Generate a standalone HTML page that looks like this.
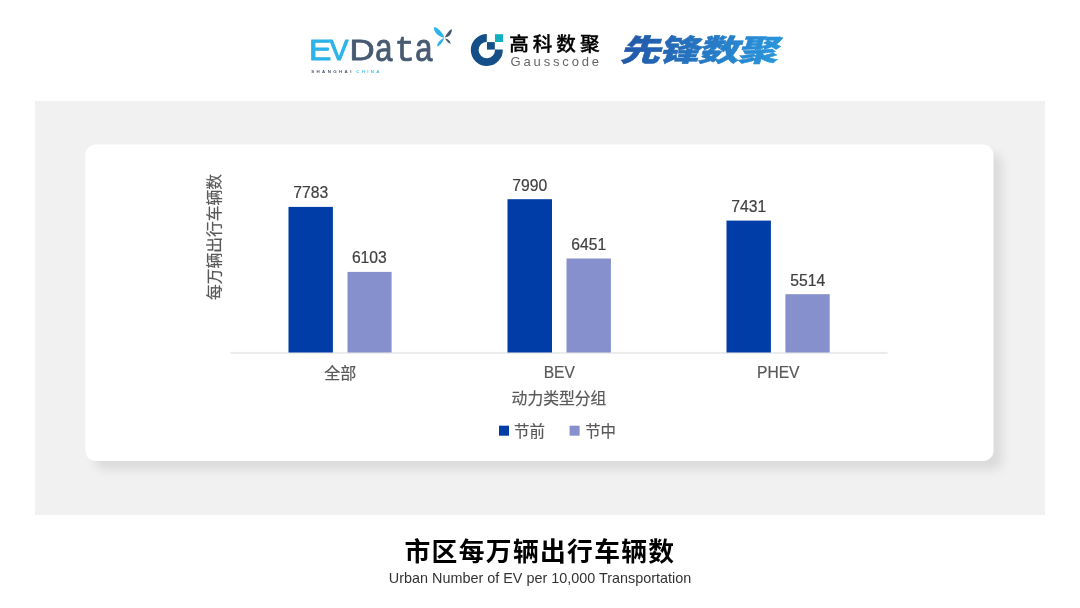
<!DOCTYPE html>
<html lang="zh-CN">
<head>
<meta charset="utf-8">
<title>市区每万辆出行车辆数</title>
<style>
html,body{margin:0;padding:0;}
body{width:1080px;height:608px;position:relative;overflow:hidden;background:#fff;
  font-family:"Liberation Sans","Noto Sans CJK SC",sans-serif;}
.abs{position:absolute;}
.val{position:absolute;font-size:15.7px;line-height:16px;color:#404040;-webkit-text-stroke:0.2px #404040;width:60px;text-align:center;white-space:nowrap;}
.cat{position:absolute;font-size:15.6px;line-height:16px;color:#595959;-webkit-text-stroke:0.2px #595959;width:100px;text-align:center;white-space:nowrap;font-weight:400;}
#xtitle{left:459px;top:389.8px;width:200px;text-align:center;font-size:15.8px;line-height:18px;color:#595959;font-weight:400;-webkit-text-stroke:0.2px #595959;white-space:nowrap;}
#ytitle{left:215.1px;top:237.2px;width:0;height:0;}
#ytitle span{position:absolute;display:block;white-space:nowrap;font-size:15.75px;line-height:18px;color:#595959;font-weight:400;-webkit-text-stroke:0.2px #595959;
  transform:translate(-50%,-50%) rotate(-90deg);transform-origin:50% 50%;left:0;top:0;}
.lg{position:absolute;font-size:15.4px;line-height:18px;color:#595959;font-weight:400;-webkit-text-stroke:0.2px #595959;white-space:nowrap;}
#title{left:0px;top:534px;width:1080px;text-align:center;font-size:25.8px;line-height:36px;font-weight:700;color:#000;letter-spacing:1.3px;white-space:nowrap;
  font-family:"Liberation Sans","Noto Sans CJK SC",sans-serif;}
#sub{left:0;top:569.6px;width:1080px;text-align:center;font-size:14.4px;line-height:16px;color:#333;white-space:nowrap;}
</style>
</head>
<body>
<svg class="abs" style="left:0;top:0" width="1080" height="608" viewBox="0 0 1080 608">
  <defs>
    <filter id="sh" x="-10%" y="-20%" width="120%" height="140%">
      <feDropShadow dx="9" dy="9" stdDeviation="5" flood-color="#000" flood-opacity="0.092"/>
    </filter>
  </defs>
  <rect x="35" y="101" width="1010" height="414" fill="#f1f1f1"/>
  <rect x="85.4" y="144.6" width="907.9" height="316.4" rx="10" ry="10" fill="#fff" filter="url(#sh)"/>
  <!-- axis -->
  <rect x="230.7" y="351.9" width="656.8" height="2" fill="#ebebeb"/>
  <!-- bars -->
  <g fill="#003da6">
    <rect x="288.5" y="206.9" width="44.4" height="145.6"/>
    <rect x="507.5" y="199.2" width="44.5" height="153.3"/>
    <rect x="726.5" y="220.6" width="44.4" height="131.9"/>
  </g>
  <g fill="#8690cc">
    <rect x="347.5" y="271.9" width="44.1" height="80.6"/>
    <rect x="566.5" y="258.5" width="44.4" height="94"/>
    <rect x="785.4" y="294.2" width="44.3" height="58.3"/>
  </g>
  <!-- legend markers -->
  <rect x="499" y="425.7" width="10" height="10" fill="#003da6"/>
  <rect x="569.6" y="425.7" width="10" height="10" fill="#8690cc"/>
</svg>

<!-- value labels -->
<div class="val" style="left:280.75px;top:184.6px">7783</div>
<div class="val" style="left:339.35px;top:249.6px">6103</div>
<div class="val" style="left:499.75px;top:177.6px">7990</div>
<div class="val" style="left:558.75px;top:236.6px">6451</div>
<div class="val" style="left:718.75px;top:198.6px">7431</div>
<div class="val" style="left:777.75px;top:272.6px">5514</div>

<!-- categories -->
<div class="cat" style="left:290.25px;top:365.5px;font-size:16px">全部</div>
<div class="cat" style="left:509.25px;top:365px">BEV</div>
<div class="cat" style="left:728.25px;top:365px">PHEV</div>

<div id="xtitle" class="abs">动力类型分组</div>
<div id="ytitle" class="abs"><span>每万辆出行车辆数</span></div>

<!-- legend -->
<div class="lg" style="left:514px;top:423px">节前</div>
<div class="lg" style="left:585.2px;top:423px">节中</div>

<div id="title" class="abs">市区每万辆出行车辆数</div>
<div id="sub" class="abs">Urban Number of EV per 10,000 Transportation</div>

<!-- logos -->
<svg class="abs" id="logos" style="left:0;top:0" width="1080" height="100" viewBox="0 0 1080 100">
  <defs>
    <linearGradient id="xf" x1="0" y1="0" x2="1" y2="0">
      <stop offset="0" stop-color="#2257a8"/>
      <stop offset="1" stop-color="#2a97dd"/>
    </linearGradient>
  </defs>
  <!-- EVData -->
  <g font-family="'Liberation Sans',sans-serif" font-size="30" stroke-linejoin="round"><text transform="translate(308.9,60.4) scale(1.12,1)" fill="#2cb4e8" stroke="#2cb4e8" stroke-width="1">E</text><text transform="translate(329.6,60.4) scale(0.95,1)" fill="#2cb4e8" stroke="#2cb4e8" stroke-width="1">V</text><text transform="translate(349.6,60.4) scale(1.16,1)" fill="#475a72" stroke="#475a72" stroke-width="0.8">D</text><text transform="translate(374.5,60.7) scale(0.8,1)" font-family="'Liberation Mono',monospace" font-size="39.5" fill="#475a72" stroke="#475a72" stroke-width="0.9">a</text><text transform="translate(394.4,60.7) scale(0.95,1)" font-family="'Liberation Mono',monospace" font-size="36" fill="#475a72" stroke="#475a72" stroke-width="0.7">t</text><text transform="translate(414.6,60.7) scale(0.8,1)" font-family="'Liberation Mono',monospace" font-size="39.5" fill="#475a72" stroke="#475a72" stroke-width="0.9">a</text>
  </g>
  <g font-family="'Liberation Sans',sans-serif">
    <text x="311.2" y="72.8" font-size="4.4" font-weight="700" fill="#4a5568" textLength="40.2" lengthAdjust="spacing">SHANGHAI</text>
    <text x="356.3" y="72.8" font-size="4.4" font-weight="700" fill="#45bde8" textLength="23.2" lengthAdjust="spacing">CHINA</text>
  </g>
  <!-- butterfly -->
  <path d="M433.8 27.3 C433.8 29.9 435.4 33.6 438.6 35.6 C440.3 36.7 442.8 37.4 444.4 37.9 C443.9 35.8 442.1 32.6 439.8 30.4 C437.9 28.3 435.4 26.7 433.8 27.3 Z" fill="#2cb4e8"/>
  <path d="M444.1 38.3 C442.1 38.8 439.6 40.5 438.1 43.0 C437.4 44.2 436.9 45.7 437.2 46.5 C438.6 46.3 440.3 44.7 441.8 42.7 C443.0 41.0 443.8 39.5 444.1 38.3 Z" fill="#2cb4e8"/>
  <path d="M444.9 37.4 C445.5 35.6 447.0 33.1 448.7 31.4 C450.0 30.1 451.1 29.4 451.8 29.3 C452.2 30.6 451.4 33.1 450.0 35.1 C448.7 36.6 446.7 37.3 444.9 37.4 Z" fill="#475a72"/>
  <path d="M445.2 38.5 C446.5 38.5 448.0 39.3 449.1 40.6 C450.0 41.7 450.7 43.0 450.8 43.8 C449.7 43.6 448.2 42.5 447.0 41.2 C446.2 40.4 445.5 39.4 445.2 38.5 Z" fill="#475a72"/>

  <!-- Gausscode icon -->
  <path d="M486.8 34.1 A16 16 0 1 0 502.8 49.6 L495 49.6 A8.2 8.2 0 1 1 486.8 41.9 Z" fill="#154f87"/>
  <rect x="487" y="42.1" width="7.8" height="7.5" fill="#154f87"/>
  <rect x="495" y="34.2" width="8" height="7.8" fill="#10b0c1"/>
  <text x="509.2" y="50.6" font-family="'Liberation Sans','Noto Sans CJK SC',sans-serif" font-weight="500" font-size="19.6" fill="#000" stroke="#000" stroke-width="0.35" letter-spacing="4">高科数聚</text>
  <text x="510.6" y="65.5" font-family="'Liberation Sans',sans-serif" font-size="13" fill="#666" textLength="88.4" lengthAdjust="spacing">Gausscode</text>

  <!-- 先锋数聚 -->
  <g transform="translate(619.5,61.2) skewX(-17) scale(1.36,1)">
    <text x="0" y="0" font-family="'Liberation Sans','Noto Sans CJK SC',sans-serif" font-weight="900" font-size="30" fill="url(#xf)" stroke="url(#xf)" stroke-width="0.5" letter-spacing="-1.2">先锋数聚</text>
  </g>
</svg>
</body>
</html>
